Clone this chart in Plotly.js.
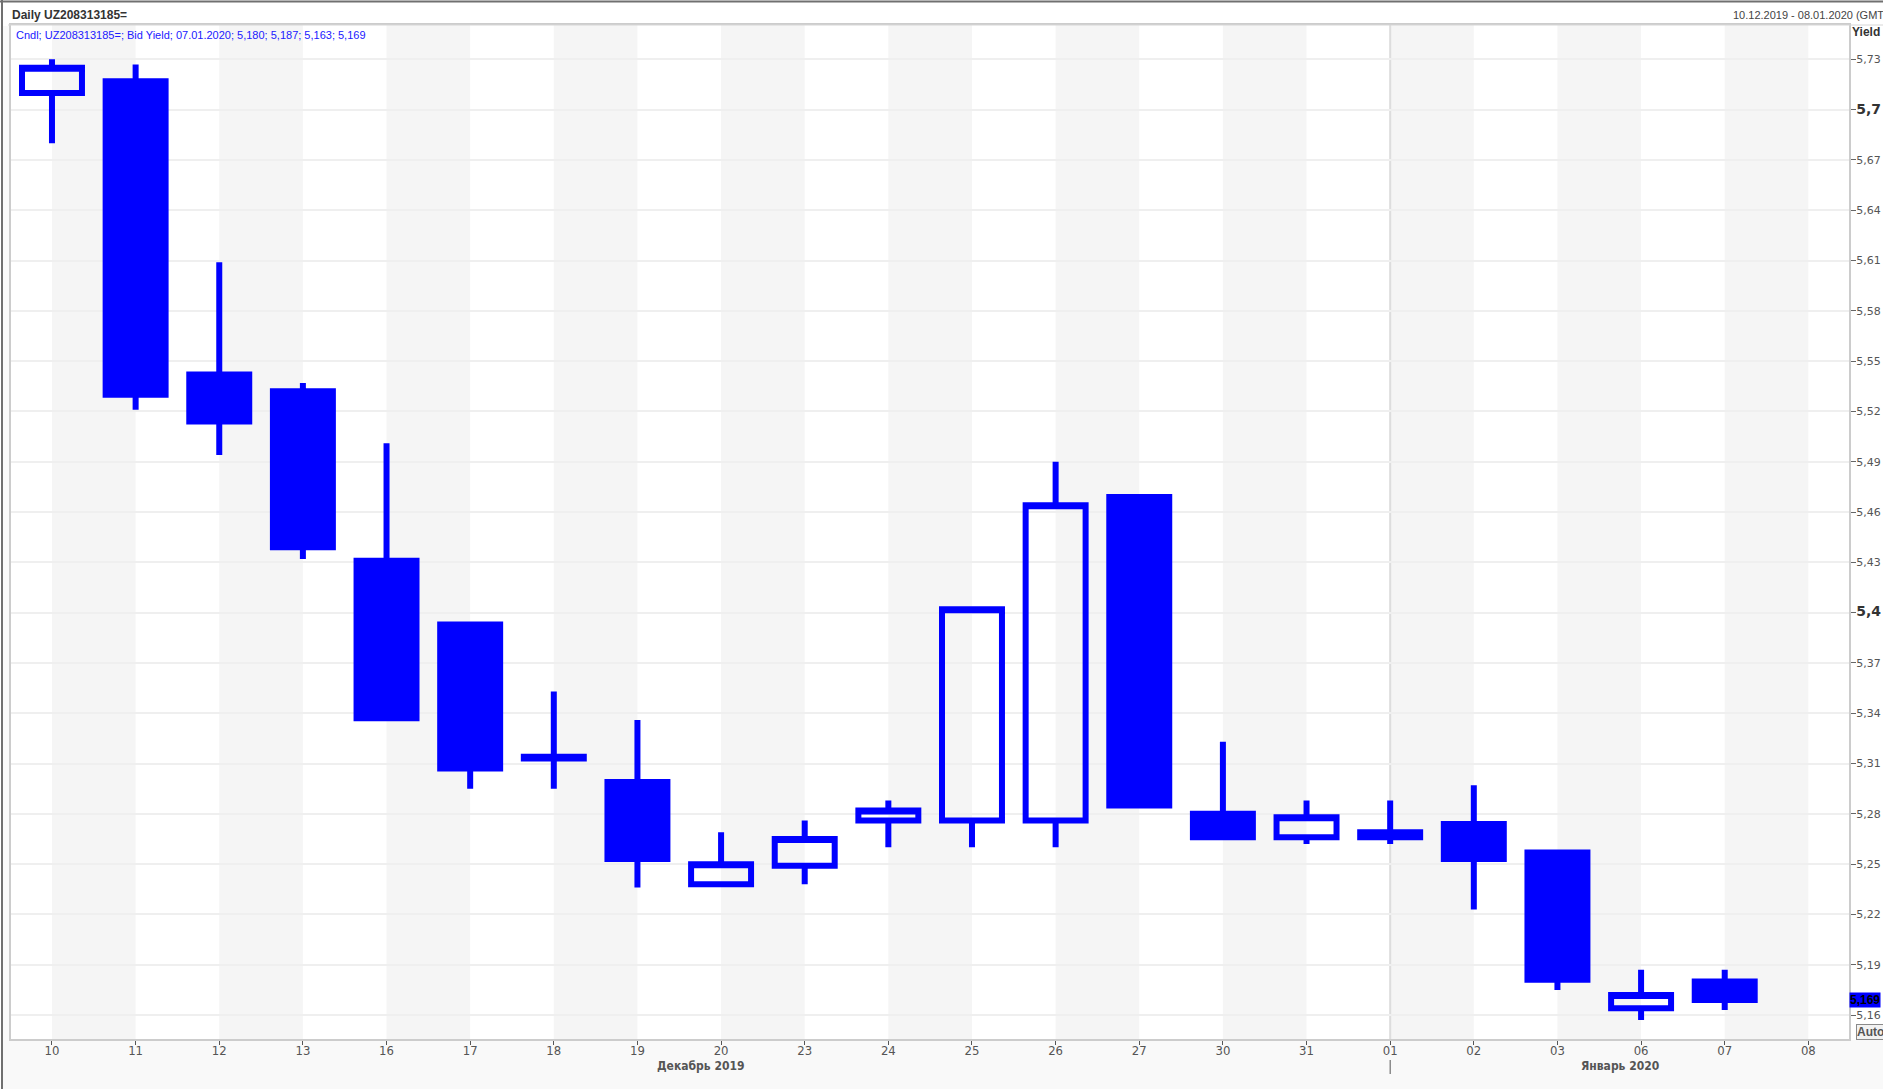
<!DOCTYPE html>
<html>
<head>
<meta charset="utf-8">
<script src="https://cdn.plot.ly/plotly-3.0.1.min.js"></script>
<style>
html,body{margin:0;padding:0;background:#ffffff;}
#chart{width:1883px;height:1089px;}
</style>
</head>
<body>
<div id="chart"></div>
<script>
// ---- data ----
var dayLabels = ['10','11','12','13','16','17','18','19','20','23','24','25','26','27','30','31','01','02','03','06','07','08'];
var openVals  = [5.710,5.717,5.542,5.532,5.431,5.393,5.314,5.299,5.238,5.249,5.276,5.276,5.276,5.469,5.280,5.266,5.269,5.274,5.257,5.164,5.180];
var highVals  = [5.730,5.727,5.609,5.537,5.501,5.393,5.353,5.336,5.269,5.276,5.288,5.402,5.490,5.469,5.323,5.288,5.288,5.297,5.257,5.187,5.187];
var lowVals   = [5.680,5.521,5.494,5.432,5.337,5.295,5.295,5.236,5.238,5.238,5.260,5.260,5.260,5.285,5.266,5.262,5.262,5.223,5.175,5.157,5.163];
var closeVals = [5.725,5.530,5.514,5.439,5.337,5.307,5.313,5.253,5.250,5.265,5.282,5.402,5.464,5.285,5.266,5.278,5.266,5.253,5.181,5.172,5.169];
var yTickVals = [5.73,5.70,5.67,5.64,5.61,5.58,5.55,5.52,5.49,5.46,5.43,5.40,5.37,5.34,5.31,5.28,5.25,5.22,5.19,5.16];
var yTickLabels = ['5,73','5,7','5,67','5,64','5,61','5,58','5,55','5,52','5,49','5,46','5,43','5,4','5,37','5,34','5,31','5,28','5,25','5,22','5,19','5,16'];
var majorLabels = ['5,7','5,4'];
var monthLabels = ['Декабрь 2019','Январь 2020'];
var monthPos = [7.75, 18.75];
var yearBreakIndex = 16;
var lastValue = 5.169;
var lastLabel = '5,169';
var titleText = 'Daily UZ208313185=';
var rangeText = '10.12.2019 - 08.01.2020 (GMT)';
var infoText = 'Cndl; UZ208313185=; Bid Yield; 07.01.2020; 5,180; 5,187; 5,163; 5,169';

// ---- geometry helpers (paper coords from pixels) ----
var W = 1883, H = 1089, ML = 11, MR = 34, MT = 25, MB = 50;
var PW = W - ML - MR, PH = H - MT - MB;
function PX(px){ return (px - ML) / PW; }
function PY(py){ return (H - MB - py) / PH; }

var xIdx = openVals.map(function(_, i){ return i; });
var tickIdx = dayLabels.map(function(_, i){ return i; });

var blue = '#0000ff';
var trace = {
  type: 'candlestick',
  x: xIdx,
  open: openVals, high: highVals, low: lowVals, close: closeVals,
  increasing: {line: {color: blue, width: 6}, fillcolor: 'rgba(0,0,0,0)'},
  decreasing: {line: {color: blue, width: 6}, fillcolor: blue},
  whiskerwidth: 0,
  hoverinfo: 'skip',
  showlegend: false
};

var shapes = [];
// background strips
shapes.push({type:'rect', xref:'paper', yref:'paper', x0:PX(3), x1:PX(1883), y0:PY(1089), y1:PY(1040), fillcolor:'#f9f9f9', line:{width:0}, layer:'below'});
shapes.push({type:'rect', xref:'paper', yref:'paper', x0:PX(3), x1:PX(10), y0:PY(1089), y1:PY(26), fillcolor:'#f9f9f9', line:{width:0}, layer:'below'});
// alternating bands
for (var i = 0; i + 1 < dayLabels.length; i += 2) {
  shapes.push({type:'rect', xref:'x', yref:'paper', x0:i, x1:i+1, y0:0, y1:1, fillcolor:'#f5f5f5', line:{width:0}, layer:'below'});
}
// year separator
shapes.push({type:'line', xref:'x', yref:'paper', x0:yearBreakIndex, x1:yearBreakIndex, y0:0, y1:1, line:{color:'#dddddd', width:2}, layer:'below'});
shapes.push({type:'line', xref:'x', yref:'paper', x0:yearBreakIndex, x1:yearBreakIndex, y0:PY(1060), y1:PY(1074), line:{color:'#555555', width:1}});
// header line and outer frame
shapes.push({type:'line', xref:'paper', yref:'paper', x0:PX(8), x1:PX(1883), y0:PY(25), y1:PY(25), line:{color:'#d6d6d6', width:1}});
shapes.push({type:'line', xref:'paper', yref:'paper', x0:PX(2), x1:PX(2), y0:PY(0), y1:PY(1089), line:{color:'#707070', width:2}});
shapes.push({type:'line', xref:'paper', yref:'paper', x0:PX(0), x1:PX(1883), y0:PY(1.5), y1:PY(1.5), line:{color:'#707070', width:2}});

var yTickText = yTickLabels.map(function(t){
  return majorLabels.indexOf(t) >= 0 ? '<span style="font-size:14px;font-weight:bold;fill:#333333">' + t + '</span>' : t;
});

var annotations = [
  {xref:'paper', yref:'paper', x:PX(10), y:PY(15), xanchor:'left', yanchor:'middle', showarrow:false,
   text:'<b>' + titleText + '</b>', font:{family:'Liberation Sans, Arial, sans-serif', size:12, color:'#333333'}},
  {xref:'paper', yref:'paper', x:PX(1731), y:PY(15), xanchor:'left', yanchor:'middle', showarrow:false,
   text:rangeText, font:{family:'Liberation Sans, Arial, sans-serif', size:11, color:'#444444'}},
  {xref:'paper', yref:'paper', x:PX(14), y:PY(35), xanchor:'left', yanchor:'middle', showarrow:false,
   text:infoText, font:{family:'Liberation Sans, Arial, sans-serif', size:11, color:'#2020ff'}},
  {xref:'paper', yref:'paper', x:PX(1850), y:PY(32), xanchor:'left', yanchor:'middle', showarrow:false,
   text:'<b>Yield</b>', font:{family:'Liberation Sans, Arial, sans-serif', size:12, color:'#333333'}},
  {xref:'paper', yref:'y', x:PX(1849), y:lastValue, xanchor:'left', yanchor:'middle', showarrow:false,
   text:'<b>' + lastLabel + '</b>', bgcolor:blue, borderpad:0, font:{family:'Liberation Sans, Arial, sans-serif', size:12, color:'#000000'}},
  {xref:'paper', yref:'paper', x:PX(1856), y:PY(1031.5), xanchor:'left', yanchor:'middle', showarrow:false,
   text:'<b>Auto</b>', bgcolor:'#f2f2f2', bordercolor:'#8a8a8a', borderwidth:1, borderpad:0,
   font:{family:'Liberation Sans, Arial, sans-serif', size:12, color:'#555555'}}
];
for (var m = 0; m < monthLabels.length; m++) {
  annotations.push({xref:'x', yref:'paper', x:monthPos[m], y:PY(1066), xanchor:'center', yanchor:'middle', showarrow:false,
    text:'<b>' + monthLabels[m] + '</b>', font:{family:'Liberation Sans Narrow, DejaVu Sans Condensed, sans-serif', size:12, color:'#555555'}});
}

var layout = {
  width: W, height: H,
  margin: {l: ML, r: MR, t: MT, b: MB, pad: 0},
  paper_bgcolor: '#ffffff',
  plot_bgcolor: 'rgba(0,0,0,0)',
  showlegend: false,
  hovermode: false,
  boxgap: 0.283,
  boxgroupgap: 0,
  xaxis: {
    type: 'linear',
    range: [-0.49, 21.486],
    tickmode: 'array', tickvals: tickIdx, ticktext: dayLabels,
    showgrid: false, zeroline: false,
    ticks: 'outside', ticklen: 4, tickwidth: 1, tickcolor: '#555555',
    ticklabelstandoff: -6,
    showline: true, mirror: true, linecolor: '#cccccc', linewidth: 2,
    tickfont: {family: 'Liberation Sans Narrow, DejaVu Sans Condensed, sans-serif', size: 13, color: '#555555'},
    rangeslider: {visible: false},
    fixedrange: true
  },
  yaxis: {
    side: 'right',
    range: [5.1457, 5.7505],
    tickmode: 'array', tickvals: yTickVals, ticktext: yTickText,
    showgrid: true, gridcolor: '#efefef', gridwidth: 2, zeroline: false,
    ticks: 'outside', ticklen: 5, tickwidth: 1, tickcolor: '#666666',
    ticklabelstandoff: -2,
    showline: true, mirror: true, linecolor: '#cccccc', linewidth: 2,
    tickfont: {family: 'DejaVu Sans, sans-serif', size: 11, color: '#555555'},
    fixedrange: true
  },
  shapes: shapes,
  annotations: annotations
};

Plotly.newPlot('chart', [trace], layout, {displayModeBar: false, staticPlot: true});
</script>
</body>
</html>
